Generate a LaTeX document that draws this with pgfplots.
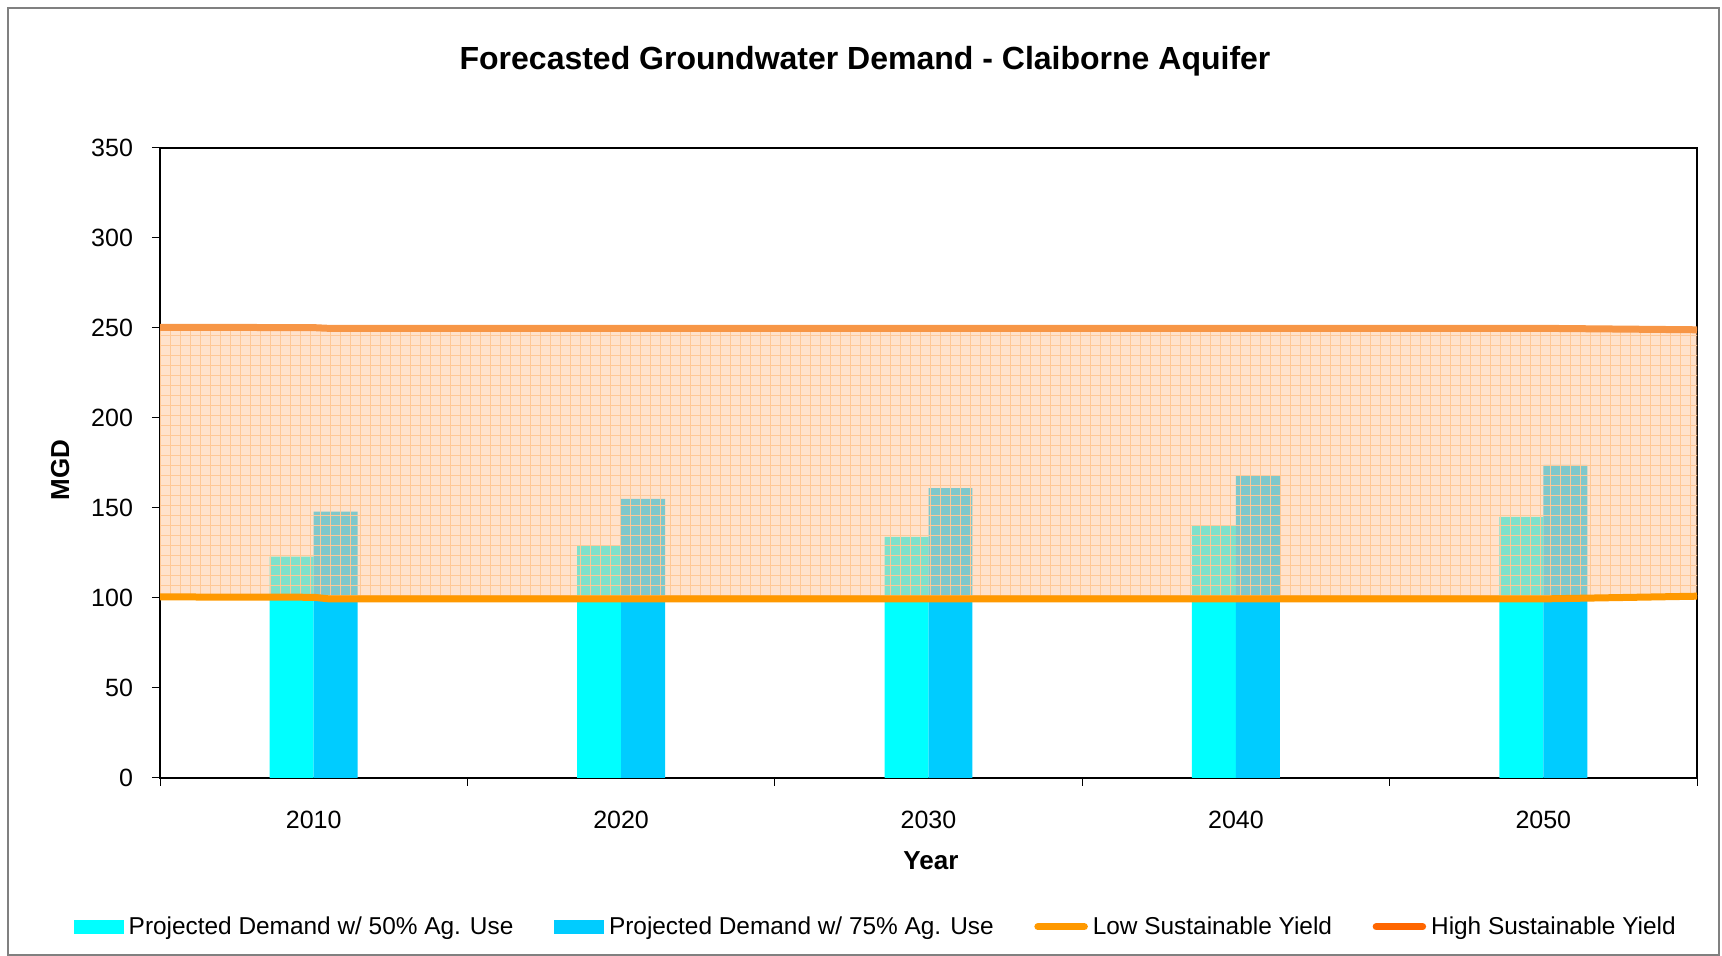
\documentclass[border=0pt]{standalone}
\usepackage{pgfplots}
\pgfplotsset{compat=1.18}
\usepackage{fontspec}
\setmainfont{Liberation Sans}
\usetikzlibrary{patterns.meta}
\definecolor{bar50}{RGB}{0,255,255}
\definecolor{bar75}{RGB}{0,204,255}
\definecolor{lowy}{RGB}{255,153,0}
\definecolor{highy}{RGB}{247,150,70}
\definecolor{highleg}{RGB}{255,102,0}
\definecolor{band}{RGB}{255,197,153}
\definecolor{bandgrid}{RGB}{255,200,150}
\definecolor{framec}{RGB}{128,128,128}
\begin{document}
\begin{tikzpicture}
\useasboundingbox (-80pt,-89pt) rectangle (781pt,389pt);
\draw[framec, line width=0.8pt] (-76pt,-88.5pt) rectangle (779.5pt,385pt);
\begin{axis}[
  at={(0,0)}, anchor=south west,
  scale only axis, width=768.5pt, height=315pt,
  xmin=-0.5, xmax=4.5, ymin=0, ymax=350,
  xtick={0,1,2,3,4}, xticklabels={2010,2020,2030,2040,2050},
  major x tick style={draw=none},
  minor xtick={-0.5,0.5,1.5,2.5,3.5,4.5},
  ytick={0,50,...,350},
  xtick pos=bottom, ytick pos=left,
  tick align=outside,
  major tick length=4pt, minor tick length=4pt,
  tick style={black, line width=0.5pt},
  axis line style={black, line width=0.6pt},
  tick label style={font=\fontsize{12.5}{15}\selectfont},
  /pgf/number format/assume math mode=true,
  xticklabel style={yshift=-9pt},
  yticklabel style={xshift=-6pt},
  title={Forecasted Groundwater Demand - Claiborne Aquifer},
  title style={font=\bfseries\fontsize{16}{19}\selectfont, at={(axis description cs:0.4587,1.119)}, anchor=center},
  ylabel={MGD},
  ylabel style={font=\bfseries\fontsize{13}{15}\selectfont, at={(axis description cs:-0.065,0.489)}, anchor=center},
  xlabel={Year},
  xlabel style={font=\bfseries\fontsize{13}{15}\selectfont, at={(axis description cs:0.5016,-0.1316)}, anchor=center},
  legend columns=4,
  legend style={at={(axis description cs:0.466,-0.236)}, anchor=center, draw=none, fill=none,
    font=\fontsize{12.2}{14}\selectfont,
    /tikz/every even column/.append style={column sep=18.8pt},
    /tikz/every odd column/.append style={column sep=1pt},
    nodes={inner sep=1.5pt}},
]
\addplot[ybar, bar width=0.143, bar shift=-0.0715, fill=bar50, draw=none,
  legend image code/.code={\fill[bar50] (0pt,-3.5pt) rectangle (25pt,3.5pt);}]
  coordinates {(0,123) (1,129) (2,134) (3,140) (4,145)};
\addlegendentry{Projected Demand w/ 50\% Ag. Use}
\addplot[ybar, bar width=0.143, bar shift=0.0715, fill=bar75, draw=none,
  legend image code/.code={\fill[bar75] (0pt,-3.5pt) rectangle (25pt,3.5pt);}]
  coordinates {(0,148) (1,155) (2,161) (3,168) (4,174)};
\addlegendentry{Projected Demand w/ 75\% Ag. Use}
\addplot[forget plot, draw=none, fill=band, fill opacity=0.5,
  postaction={fill opacity=0.5, pattern={Hatch[angle=0,distance=5pt,line width=0.5pt]}, pattern color=bandgrid}]
  coordinates {(-0.5,100) (4.5,100) (4.5,250) (-0.5,250) (-0.5,100)};
\addplot[lowy, line width=3.5pt,
  legend image code/.code={\draw[lowy, line width=3.5pt, line cap=round] (1.75pt,0pt) -- (25pt,0pt);}]
  coordinates {(-0.5,100.6) (0,100.4) (0.05,99.5) (4,99.5) (4.5,101)};
\addlegendentry{Low Sustainable Yield}
\addplot[highy, line width=3.5pt,
  legend image code/.code={\draw[highleg, line width=3.5pt, line cap=round] (1.75pt,0pt) -- (25pt,0pt);}]
  coordinates {(-0.5,250.4) (0,250.2) (0.05,249.8) (4,249.8) (4.5,249)};
\addlegendentry{High Sustainable Yield}
\end{axis}
\end{tikzpicture}
\end{document}
